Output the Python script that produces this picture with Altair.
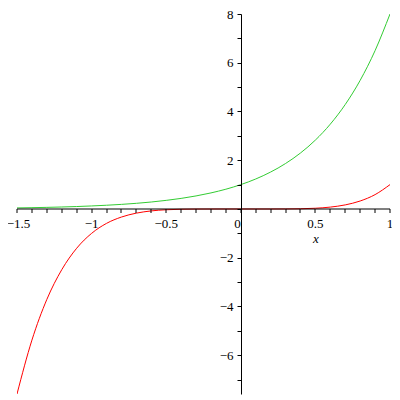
import altair as alt
import pandas as pd

xs = [-1.5, -1.4, -1.3, -1.2, -1.1, -1.0, -0.9, -0.8, -0.7, -0.6, -0.5, -0.4, -0.3,
      -0.2, -0.1, 0.0, 0.1, 0.2, 0.3, 0.4, 0.5, 0.6, 0.7, 0.8, 0.9, 1.0]
green_vals = [0.044, 0.054, 0.067, 0.082, 0.101, 0.125, 0.154, 0.189, 0.233, 0.287,
              0.354, 0.435, 0.536, 0.660, 0.812, 1.0, 1.231, 1.516, 1.866, 2.297,
              2.828, 3.482, 4.287, 5.278, 6.498, 8.0]
red_vals = [-7.59, -5.38, -3.71, -2.49, -1.61, -1.0, -0.59, -0.33, -0.17, -0.078,
            -0.031, -0.010, -0.0024, -0.0003, 0.0, 0.0, 0.0, 0.0003, 0.0024, 0.010,
            0.031, 0.078, 0.168, 0.328, 0.590, 1.0]
x_ticks = [round(-1.5 + 0.1 * i, 1) for i in range(26)]
y_ticks = list(range(-7, 9))

df = pd.DataFrame({
    "x": xs * 2,
    "y": green_vals + red_vals,
    "s": ["green"] * len(xs) + ["red"] * len(xs),
})

FONT = "Liberation Serif"
W, H = 373, 380
ymin, ymax = -7.59, 8.0
y0_px = round((ymax - 0) / (ymax - ymin) * H)
x0_px = round(1.5 / 2.5 * W)

chart = alt.Chart(df).mark_line(strokeWidth=1, interpolate="monotone", clip=True).encode(
    x=alt.X("x:Q", scale=alt.Scale(domain=[-1.5, 1.0], nice=False, zero=False),
            axis=alt.Axis(values=x_ticks, offset=-(H - y0_px), grid=False, zindex=1,
                          translate=0,
                          tickSize=4, tickColor="black", domainColor="black",
                          labelExpr="abs(datum.value*2 - round(datum.value*2)) < 0.001 ? format(datum.value, '~g') : ''",
                          labelFontSize=13, labelColor="black",
                          labelPadding=5, labelFlush=False, labelOverlap=False,
                          labelAlign=alt.condition("datum.value == 0", alt.value("right"), alt.value("center")),
                          labelOffset=alt.condition("datum.value == -1.5", alt.value(1.5), alt.value(0)),
                          title="x", titleFontStyle="italic",
                          titleFontWeight="normal", titleFontSize=13, titleColor="black",
                          titleX=299, titleY=34, titleBaseline="alphabetic")),
    y=alt.Y("y:Q", scale=alt.Scale(domain=[ymin, ymax], nice=False, zero=False),
            axis=alt.Axis(values=y_ticks, offset=-x0_px, grid=False, zindex=1,
                          tickSize=4, tickColor="black", domainColor="black",
                          labelExpr="datum.value % 2 == 0 && datum.value != 0 ? format(datum.value, '~g') : ''",
                          labelFontSize=13, labelColor="black",
                          labelPadding=4, labelFlush=False, labelOverlap=False, title=None)),
    color=alt.Color("s:N", scale=alt.Scale(domain=["green", "red"], range=["#33cc33", "#ff0000"]),
                    legend=None),
).properties(
    width=W, height=H,
    autosize=alt.AutoSizeParams(type="none"),
    padding={"left": 9, "top": 6, "right": 2, "bottom": 2},
).configure(font=FONT).configure_axis(labelFont=FONT, titleFont=FONT).configure_view(stroke=None)

chart.save("out.html", embed_options={"renderer": "svg", "actions": False})
